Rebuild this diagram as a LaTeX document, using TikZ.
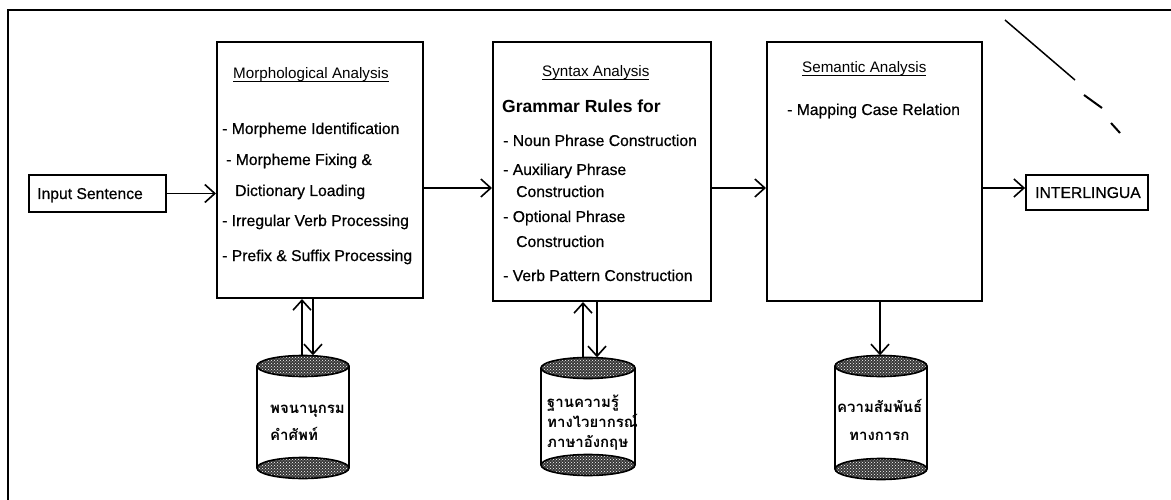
\documentclass[tikz,border=0pt]{standalone}
\usepackage{fontspec}
\setmainfont{Liberation Sans}
\newfontfamily\heavyfont{Liberation Sans}[FakeBold=0.6]
\newfontfamily\thaifont[Script=Thai]{Loma}
\usetikzlibrary{arrows.meta,patterns,calc}
\newcommand\ulin[1]{\setbox0\hbox{#1}\rlap{\rule[-3pt]{\wd0}{1.1pt}}\box0}
\newcommand\dbcyl[5]{% name, cx, ytop, ybot, rx
  \fill[white] (#2-#5,#3) rectangle (#2+#5,#4);
  \draw[cylline] (#2-#5,#3) -- (#2-#5,#4) (#2+#5,#3) -- (#2+#5,#4);
  \draw[cylline, ellfill] (#2,#4) ellipse [x radius=#5, y radius=10.5];
  \draw[cylline, ellfill] (#2,#3) ellipse [x radius=#5, y radius=10.5];
  \node[inner sep=0, minimum width=2*#5, minimum height=#4-#3+21] (#1) at (#2,{(#3+#4)/2}) {};
}
\begin{document}
\begin{tikzpicture}[x=1pt,y=-1pt,
  procbox/.style={draw, line width=2pt, inner sep=0, fill=white},
  smallbox/.style={draw, line width=1.8pt, inner sep=0, fill=white},
  item/.style={inner sep=0, anchor=base west, font=\fontsize{15.7}{18}\selectfont\heavyfont},
  ttl/.style={inner sep=0, anchor=base west, font=\fontsize{15.2}{18}\selectfont},
  gram/.style={inner sep=0, anchor=base west, font=\fontsize{17.5}{20}\selectfont\bfseries},
  thaitxt/.style={inner sep=0, anchor=base west, font=\fontsize{15}{18}\selectfont\thaifont\bfseries},
  cylline/.style={line width=1.6pt},
  ellfill/.style={preaction={fill=black!78}, pattern=crosshatch dots, pattern color=white},
  arr/.style={line width=1.6pt, -{Straight Barb[length=10pt,width=18pt]}},
  line/.style={line width=1.6pt}
]
\useasboundingbox (0,0) rectangle (1171,500);
% outer frame (cropped)
\draw[line width=2pt] (8,500) -- (8,10) -- (1171,10);
% scan stroke
\draw[line width=1.5pt] (1005,20) -- (1040,50) -- (1075,80);
\draw[line width=2pt] (1084,95) -- (1102,108);
\draw[line width=2pt] (1111,123) -- (1120,133);

% boxes
\node[smallbox, minimum width=137, minimum height=37] (input) at (97.5,193.5) {};
\node[item] (inputt) at (37,199) {Input Sentence};
\node[procbox, minimum width=206, minimum height=256] (morph) at (320,170) {};
\node[procbox, minimum width=218, minimum height=259] (syntax) at (602,171.5) {};
\node[procbox, minimum width=215, minimum height=259] (sem) at (874.5,171.5) {};
\node[smallbox, minimum width=122, minimum height=35] (inter) at (1087,192.5) {};
\node[item] (intert) at (1035,198) {INTERLINGUA};

% morphological text
\node[ttl] (mt) at (233,79) {\ulin{Morphological Analysis}};
\node[item] (m1) at (222,134) {- Morpheme Identification};
\node[item] (m2) at (226,165) {- Morpheme Fixing \&};
\node[item] (m3) at (235,196) {Dictionary Loading};
\node[item] (m4) at (222,226) {- Irregular Verb Processing};
\node[item] (m5) at (222,261) {- Prefix \& Suffix Processing};

% syntax text
\node[ttl] (st) at (542,77) {\ulin{Syntax Analysis}};
\node[gram] (s0) at (502,113) {Grammar Rules for};
\node[item] (s1) at (503,146) {- Noun Phrase Construction};
\node[item] (s2) at (503,175) {- Auxiliary Phrase};
\node[item] (s3) at (516,197) {Construction};
\node[item] (s4) at (503,222) {- Optional Phrase};
\node[item] (s5) at (516,247) {Construction};
\node[item] (s6) at (503,281) {- Verb Pattern Construction};

% semantic text
\node[ttl] (set) at (802,73) {\ulin{Semantic Analysis}};
\node[item] (se1) at (787,115) {- Mapping Case Relation};

% cylinders
\dbcyl{dictA}{303}{366}{468}{46}
\dbcyl{gramB}{588}{368}{465}{47}
\dbcyl{caseC}{881}{366}{469}{46}

\node[thaitxt] (ta1) at (270,413) {พจนานุกรม};
\node[thaitxt] (ta2) at (270,440) {คำศัพท์};
\node[thaitxt] (tb1) at (547,407) {ฐานความรู้};
\node[thaitxt] (tb2) at (547,427) {ทางไวยากรณ์};
\node[thaitxt] (tb3) at (547,447) {ภาษาอังกฤษ};
\node[thaitxt] (tc1) at (837,412) {ความสัมพันธ์};
\node[thaitxt] (tc2) at (849,440) {ทางการก};

% connectors
\coordinate (hy) at (0,188);
\draw[arr] (input.east) -- (input.east -| morph.west);
\draw[arr] (morph.east |- hy) -- (syntax.west |- hy);
\draw[arr] (syntax.east |- hy) -- (sem.west |- hy);
\draw[arr] (sem.east |- hy) -- (inter.west |- hy);

\coordinate (xa1) at (302,0);
\coordinate (xa2) at (313,0);
\coordinate (xb1) at (583,0);
\coordinate (xb2) at (597,0);
\coordinate (xc) at (880,0);
\draw[arr] (xa1 |- dictA.north) -- (xa1 |- morph.south);
\draw[arr] (xa2 |- morph.south) -- (xa2 |- dictA.north);
\draw[arr] (xb1 |- gramB.north) -- (xb1 |- syntax.south);
\draw[arr] (xb2 |- syntax.south) -- (xb2 |- gramB.north);
\draw[arr] (xc |- sem.south) -- (xc |- caseC.north);
\end{tikzpicture}
\end{document}
